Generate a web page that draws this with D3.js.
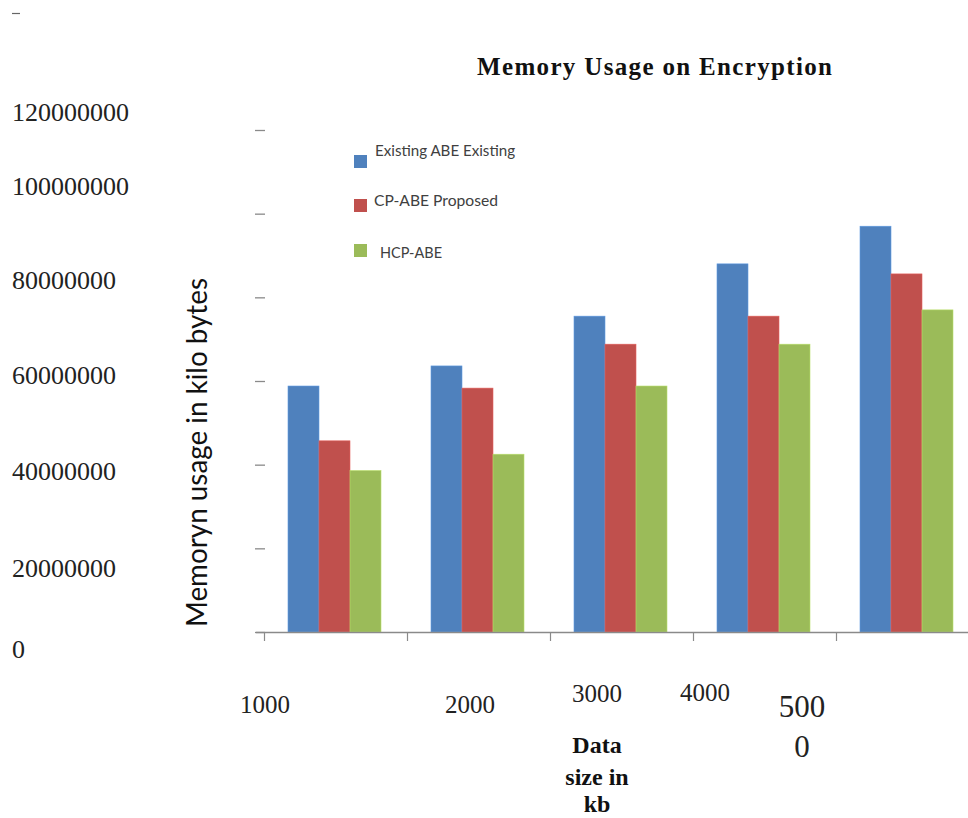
<!DOCTYPE html>
<html>
<head>
<meta charset="utf-8">
<script src="https://cdn.jsdelivr.net/npm/d3@7"></script>
<style>
  html, body { margin: 0; padding: 0; background: #fff; }
  svg { display: block; }
</style>
</head>
<body>
<svg id="chart" width="968" height="818"></svg>
<script>
// ---------------- data ----------------
const categories = ["1000", "2000", "3000", "4000", "5000"];
const seriesNames = ["Existing ABE Existing", "CP-ABE Proposed", "HCP-ABE"];
const existingABE = [58800000, 63600000, 75500000, 88000000, 97000000];
const cpABEProposed = [45700000, 58300000, 68800000, 75500000, 85600000];
const hcpABE = [38600000, 42500000, 58800000, 68800000, 77000000];
const yTickValues = [0, 20000000, 40000000, 60000000, 80000000, 100000000, 120000000];
const yTickLabels = ["0", "20000000", "40000000", "60000000", "80000000", "100000000", "120000000"];
const xTickLabelLines = [["1000"], ["2000"], ["3000"], ["4000"], ["500", "0"]];
const xTitleLines = ["Data", "size in", "kb"];
const colors = ["#4F81BD", "#C0504D", "#9BBB59"];

// ---------------- layout ----------------
const svg = d3.select("#chart");
svg.append("rect").attr("width", 968).attr("height", 818).attr("fill", "#fff");

const plotLeft = 264, plotRight = 979, plotTop = 130, plotBottom = 632;
const axisColor = "#8a8a8a";

const x0 = d3.scaleBand().domain(categories).range([plotLeft, plotRight]).padding(0);
const x1 = d3.scaleBand().domain(seriesNames).range([24, 117]).padding(0);
const y = d3.scaleLinear().domain([0, 120000000]).range([plotBottom, plotTop]);
const color = d3.scaleOrdinal().domain(seriesNames).range(colors);

const seriesValues = [existingABE, cpABEProposed, hcpABE];
const rows = [];
categories.forEach((c, i) => {
  seriesNames.forEach((s, j) => rows.push({ cat: c, series: s, value: seriesValues[j][i] }));
});

// small stray mark at top-left
svg.append("line").attr("x1", 12).attr("x2", 20).attr("y1", 13.5).attr("y2", 13.5)
  .attr("stroke", "#666").attr("stroke-width", 1.2);

// title
svg.append("text")
  .attr("x", 477).attr("y", 75)
  .attr("font-family", "Liberation Serif, Times New Roman, serif")
  .attr("font-weight", "bold").attr("font-size", 25)
  .attr("textLength", 355).attr("lengthAdjust", "spacing")
  .attr("fill", "#111")
  .text("Memory Usage on Encryption");

// y tick marks (no axis line)
const yAxis = d3.axisLeft(y).tickValues(yTickValues).tickSize(10).tickFormat("");
const yg = svg.append("g").attr("transform", `translate(265,0)`).call(yAxis);
yg.select(".domain").remove();
yg.selectAll(".tick line").attr("stroke", axisColor).attr("stroke-width", 1.3);

// y tick labels (misplaced as in the original figure)
const yLabelBaselines = [658, 577, 480, 384, 289, 195, 121];
svg.append("g").selectAll("text").data(yTickLabels).join("text")
  .attr("x", 12)
  .attr("y", (d, i) => yLabelBaselines[i])
  .attr("font-family", "Liberation Serif, Times New Roman, serif")
  .attr("font-size", 26)
  .attr("fill", "#222")
  .text(d => d);

// y axis title
svg.append("text")
  .attr("transform", "translate(207,627) rotate(-90)")
  .attr("font-family", "Lato, Carlito, sans-serif")
  .attr("font-size", 29)
  .attr("textLength", 349).attr("lengthAdjust", "spacingAndGlyphs")
  .attr("fill", "#111")
  .text("Memoryn usage in kilo bytes");

// bars
svg.append("g").selectAll("rect").data(rows).join("rect")
  .attr("x", d => x0(d.cat) + x1(d.series))
  .attr("width", x1.bandwidth())
  .attr("y", d => y(d.value))
  .attr("height", d => y(0) - y(d.value))
  .attr("fill", d => color(d.series))
  .attr("stroke", d => d3.color(color(d.series)).brighter(0.5))
  .attr("stroke-width", 0.6);

// x axis
svg.append("line").attr("x1", 256).attr("x2", 968).attr("y1", plotBottom + 0.5).attr("y2", plotBottom + 0.5)
  .attr("stroke", axisColor).attr("stroke-width", 1.3);
svg.append("g").selectAll("line").data(categories).join("line")
  .attr("x1", d => x0(d) + 0.5).attr("x2", d => x0(d) + 0.5)
  .attr("y1", plotBottom).attr("y2", plotBottom + 9)
  .attr("stroke", axisColor).attr("stroke-width", 1.2);

// x tick labels (positioned as in the original figure)
const xLabelPos = [
  { x: 240, y: 713, size: 25, dy: 0 },
  { x: 445, y: 713, size: 25, dy: 0 },
  { x: 572, y: 702, size: 25, dy: 0 },
  { x: 680, y: 701, size: 25, dy: 0 },
  { x: 802, y: 717, size: 31, dy: 40, anchor: "middle" }
];
xTickLabelLines.forEach((lines, i) => {
  const p = xLabelPos[i];
  const t = svg.append("text")
    .attr("font-family", "Liberation Serif, Times New Roman, serif")
    .attr("font-size", p.size)
    .attr("fill", "#222")
    .attr("text-anchor", p.anchor || "start");
  lines.forEach((ln, k) => {
    t.append("tspan").attr("x", p.x).attr("y", p.y + k * p.dy).text(ln);
  });
});

// x axis title
const xt = svg.append("text")
  .attr("font-family", "Liberation Serif, Times New Roman, serif")
  .attr("font-weight", "bold").attr("font-size", 24)
  .attr("text-anchor", "middle").attr("fill", "#111");
const xTitleBaselines = [753, 785, 812];
xTitleLines.forEach((ln, k) => {
  xt.append("tspan").attr("x", 597).attr("y", xTitleBaselines[k]).text(ln);
});

// legend
const legendItems = [
  { sq: 155, base: 156, tx: 375, len: 140 },
  { sq: 199, base: 206, tx: 374, len: 124 },
  { sq: 244, base: 258, tx: 380, len: 62 }
];
const lg = svg.append("g");
seriesNames.forEach((s, i) => {
  const L = legendItems[i];
  lg.append("rect").attr("x", 354).attr("y", L.sq).attr("width", 13).attr("height", 13)
    .attr("fill", color(s));
  lg.append("text").attr("x", L.tx).attr("y", L.base)
    .attr("font-family", "Lato, Carlito, sans-serif")
    .attr("font-size", 15)
    .attr("textLength", L.len).attr("lengthAdjust", "spacingAndGlyphs")
    .attr("fill", "#404040")
    .text(s);
});
</script>
</body>
</html>
